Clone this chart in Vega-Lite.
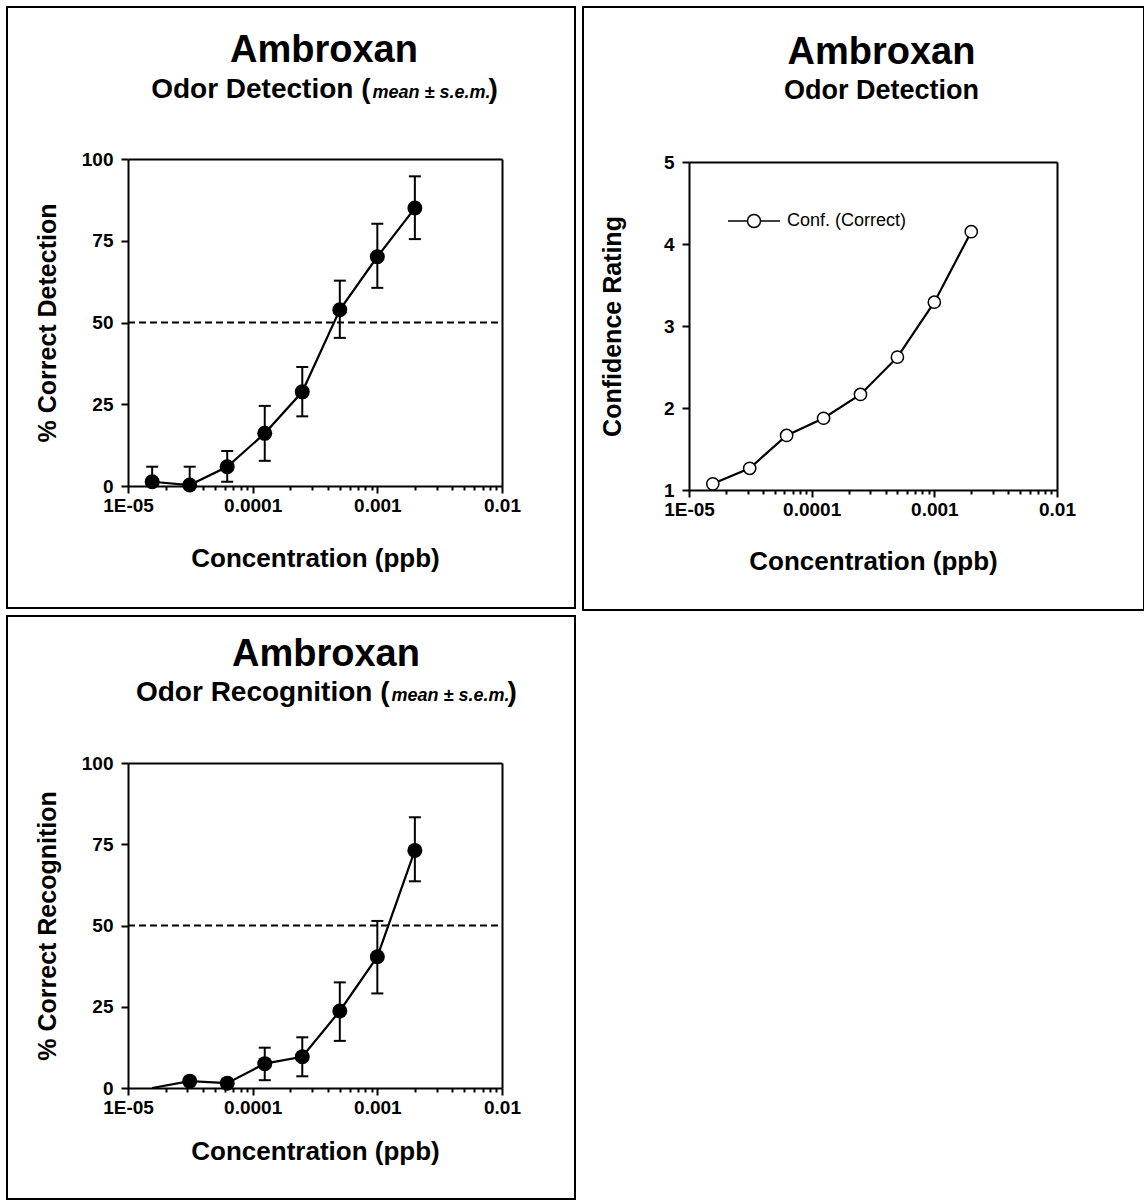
{
  "$schema": "https://vega.github.io/schema/vega-lite/v6.json",
  "background": "white",
  "padding": {"left": 6, "top": 6, "right": 0, "bottom": 0},
  "config": {
    "view": {"stroke": "black", "strokeWidth": 2},
    "font": "Liberation Sans",
    "axis": {"grid": false, "domainColor": "black", "domainWidth": 2, "tickColor": "black", "tickWidth": 2, "labelColor": "black", "titleColor": "black", "labelFont": "Liberation Sans", "titleFont": "Liberation Sans", "labelFontWeight": "bold", "titleFontWeight": "bold"},
    "title": {"font": "Liberation Sans", "color": "black"}
  },
  "datasets": {
    "det": [
      {"conc": 0.000015625, "mean": 1.3, "lo": 0, "hi": 5.9},
      {"conc": 0.00003125, "mean": 0.3, "lo": 0, "hi": 5.9},
      {"conc": 0.0000625, "mean": 5.9, "lo": 1.3, "hi": 10.7},
      {"conc": 0.000125, "mean": 16.1, "lo": 7.7, "hi": 24.5},
      {"conc": 0.00025, "mean": 28.8, "lo": 21.3, "hi": 36.4},
      {"conc": 0.0005, "mean": 53.9, "lo": 45.3, "hi": 62.8},
      {"conc": 0.001, "mean": 70.1, "lo": 60.6, "hi": 80.2},
      {"conc": 0.002, "mean": 85.0, "lo": 75.5, "hi": 94.7}
    ],
    "conf": [
      {"conc": 0.000015625, "rating": 1.075},
      {"conc": 0.00003125, "rating": 1.265},
      {"conc": 0.0000625, "rating": 1.665},
      {"conc": 0.000125, "rating": 1.875},
      {"conc": 0.00025, "rating": 2.165},
      {"conc": 0.0005, "rating": 2.62},
      {"conc": 0.001, "rating": 3.29},
      {"conc": 0.002, "rating": 4.15}
    ],
    "rec": [
      {"conc": 0.000015625, "mean": 0, "lo": null, "hi": null},
      {"conc": 0.00003125, "mean": 2.1, "lo": null, "hi": null},
      {"conc": 0.0000625, "mean": 1.5, "lo": null, "hi": null},
      {"conc": 0.000125, "mean": 7.5, "lo": 2.4, "hi": 12.4},
      {"conc": 0.00025, "mean": 9.6, "lo": 3.6, "hi": 15.6},
      {"conc": 0.0005, "mean": 23.7, "lo": 14.5, "hi": 32.5},
      {"conc": 0.001, "mean": 40.4, "lo": 29.1, "hi": 51.4},
      {"conc": 0.002, "mean": 73.1, "lo": 63.6, "hi": 83.3}
    ]
  },
  "spacing": 4,
  "resolve": {"legend": {"color": "independent"}},
  "vconcat": [
    {
      "spacing": 6,
      "resolve": {"legend": {"color": "independent"}},
      "hconcat": [
        {
          "width": 568,
          "height": 601,
          "title": {"text": "Ambroxan", "fontSize": 38, "fontWeight": "bold", "anchor": "middle", "frame": "group", "dx": 33, "offset": -63},
          "resolve": {"axis": {"x": "independent", "y": "independent"}},
          "layer": [
            {
              "data": {"values": [{"ref": 50}]},
              "mark": {"type": "rule", "strokeDash": [7, 4], "strokeWidth": 2, "color": "black"},
              "encoding": {
                "x": {"datum": 0.00001, "type": "quantitative", "scale": {"type": "log", "domain": [0.00001, 0.01], "range": [121, 495]},
                  "axis": {"orient": "top", "offset": -152, "ticks": false, "labels": false, "title": "Odor Detection (", "titleFontSize": 28, "titleX": 363, "titleY": -62, "titleAlign": "right", "titleBaseline": "alphabetic", "titleAngle": 0}},
                "x2": {"datum": 0.01},
                "y": {"field": "ref", "type": "quantitative", "scale": {"domain": [0, 100], "range": [479, 152]},
                  "axis": {"orient": "right", "offset": -73, "ticks": false, "labels": false, "title": ")", "titleFontSize": 28, "titleX": -14, "titleY": 90, "titleAlign": "left", "titleBaseline": "alphabetic", "titleAngle": 0}}
              }
            },
            {
              "data": {"name": "det"},
              "mark": {"type": "rule", "strokeWidth": 2, "color": "black"},
              "encoding": {
                "x": {"field": "conc", "type": "quantitative", "scale": {"type": "log", "domain": [0.00001, 0.01], "range": [121, 495]},
                  "axis": {"orient": "top", "offset": -152, "domain": false, "ticks": false, "labels": false, "title": "mean ± s.e.m.", "titleFontSize": 18, "titleFontStyle": "italic", "titleX": 365, "titleY": -62, "titleAlign": "left", "titleBaseline": "alphabetic", "titleAngle": 0}},
                "y": {"field": "lo", "type": "quantitative", "scale": {"domain": [0, 100], "range": [479, 152]}, "axis": null},
                "y2": {"field": "hi"}
              }
            },
            {
              "data": {"name": "det"},
              "transform": [{"fold": ["lo", "hi"], "as": ["bound", "val"]}],
              "mark": {"type": "tick", "orient": "horizontal", "size": 12, "thickness": 2, "color": "black", "opacity": 1},
              "encoding": {
                "x": {"field": "conc", "type": "quantitative", "scale": {"type": "log", "domain": [0.00001, 0.01], "range": [121, 495]}, "axis": null},
                "y": {"field": "val", "type": "quantitative", "scale": {"domain": [0, 100], "range": [479, 152]}, "axis": null}
              }
            },
            {
              "data": {"name": "det"},
              "mark": {"type": "line", "color": "black", "strokeWidth": 2.2, "point": {"filled": true, "color": "black", "size": 225, "opacity": 1}},
              "encoding": {
                "x": {"field": "conc", "type": "quantitative", "scale": {"type": "log", "domain": [0.00001, 0.01], "range": [121, 495]},
                  "axis": {"orient": "bottom", "offset": -122, "values": [1e-5, 2e-5, 3e-5, 4e-5, 5e-5, 6e-5, 7e-5, 8e-5, 9e-5, 1e-4, 2e-4, 3e-4, 4e-4, 5e-4, 6e-4, 7e-4, 8e-4, 9e-4, 1e-3, 2e-3, 3e-3, 4e-3, 5e-3, 6e-3, 7e-3, 8e-3, 9e-3, 1e-2],
                    "labelExpr": "abs(log(datum.value)/LN10 - round(log(datum.value)/LN10)) < 0.001 ? (datum.value < 0.00005 ? '1E-05' : format(datum.value, '~g')) : ''",
                    "tickSize": {"condition": {"test": "abs(log(datum.value)/LN10 - round(log(datum.value)/LN10)) < 0.001", "value": 7}, "value": 4},
                    "labelFontSize": 19, "labelPadding": 3, "labelFlush": false, "labelOverlap": false, "labelBound": false,
                    "title": "Concentration (ppb)", "titleFontSize": 26, "titlePadding": 30}},
                "y": {"field": "mean", "type": "quantitative", "scale": {"domain": [0, 100], "range": [479, 152]},
                  "axis": {"orient": "left", "offset": -121, "values": [0, 25, 50, 75, 100], "tickSize": 7, "labelFontSize": 19, "labelPadding": 8, "labelFlush": false, "labelOverlap": false, "title": "% Correct Detection", "titleFontSize": 25, "titlePadding": 21}}
              }
            }
          ]
        },
        {
          "width": 561,
          "height": 603,
          "title": {"text": "Ambroxan", "fontSize": 38, "fontWeight": "bold", "anchor": "middle", "frame": "group", "dx": 18, "offset": -65},
          "resolve": {"axis": {"x": "independent", "y": "independent"}},
          "data": {"name": "conf"},
          "layer": [
            {
              "mark": {"type": "line", "strokeWidth": 2.2},
              "encoding": {
                "x": {"field": "conc", "type": "quantitative", "scale": {"type": "log", "domain": [0.00001, 0.01], "range": [106, 474]},
                  "axis": {"orient": "bottom", "offset": -120, "values": [1e-5, 2e-5, 3e-5, 4e-5, 5e-5, 6e-5, 7e-5, 8e-5, 9e-5, 1e-4, 2e-4, 3e-4, 4e-4, 5e-4, 6e-4, 7e-4, 8e-4, 9e-4, 1e-3, 2e-3, 3e-3, 4e-3, 5e-3, 6e-3, 7e-3, 8e-3, 9e-3, 1e-2],
                    "labelExpr": "abs(log(datum.value)/LN10 - round(log(datum.value)/LN10)) < 0.001 ? (datum.value < 0.00005 ? '1E-05' : format(datum.value, '~g')) : ''",
                    "tickSize": {"condition": {"test": "abs(log(datum.value)/LN10 - round(log(datum.value)/LN10)) < 0.001", "value": 7}, "value": 4},
                    "labelFontSize": 19, "labelPadding": 3, "labelFlush": false, "labelOverlap": false, "labelBound": false,
                    "title": "Concentration (ppb)", "titleFontSize": 26, "titlePadding": 29}},
                "y": {"field": "rating", "type": "quantitative", "scale": {"domain": [1, 5], "range": [483, 155]},
                  "axis": {"orient": "left", "offset": -106, "values": [1, 2, 3, 4, 5], "tickSize": 7, "labelFontSize": 19, "labelPadding": 8, "labelFlush": false, "labelOverlap": false, "title": "Confidence Rating", "titleFontSize": 25, "titlePadding": 38}},
                "color": {"datum": "Conf. (Correct)", "type": "nominal", "scale": {"range": ["black"]},
                  "legend": {"orient": "none", "legendX": 144, "legendY": 187, "title": null, "padding": 0,
                    "symbolType": "M-1,0H-0.25M0.25,0H1M-0.25,0A0.25,0.25,0,1,1,0.25,0A0.25,0.25,0,1,1,-0.25,0Z",
                    "symbolSize": 2704, "symbolStrokeWidth": 1.5, "symbolFillColor": "white", "symbolStrokeColor": "black",
                    "labelFont": "Liberation Sans", "labelFontSize": 18, "labelFontWeight": "normal", "labelColor": "black", "labelOffset": 6}}
              }
            },
            {
              "mark": {"type": "point", "shape": "circle", "filled": true, "fill": "white", "stroke": "black", "strokeWidth": 1.5, "size": 150, "opacity": 1},
              "encoding": {
                "x": {"field": "conc", "type": "quantitative", "scale": {"type": "log", "domain": [0.00001, 0.01], "range": [106, 474]},
                  "axis": {"orient": "top", "offset": -155, "ticks": false, "labels": false, "title": "Odor Detection", "titleFontSize": 27, "titleX": 298, "titleY": -64, "titleAlign": "center", "titleBaseline": "alphabetic", "titleAngle": 0}},
                "y": {"field": "rating", "type": "quantitative", "scale": {"domain": [1, 5], "range": [483, 155]},
                  "axis": {"orient": "right", "offset": -87, "ticks": false, "labels": false, "title": null}}
              }
            }
          ]
        }
      ]
    },
    {
      "width": 568,
      "height": 583,
      "title": {"text": "Ambroxan", "fontSize": 38, "fontWeight": "bold", "anchor": "middle", "frame": "group", "dx": 35, "offset": -58},
      "resolve": {"axis": {"x": "independent", "y": "independent"}},
      "layer": [
        {
          "data": {"values": [{"ref": 50}]},
          "mark": {"type": "rule", "strokeDash": [7, 4], "strokeWidth": 2, "color": "black"},
          "encoding": {
            "x": {"datum": 0.00001, "type": "quantitative", "scale": {"type": "log", "domain": [0.00001, 0.01], "range": [121, 495]},
              "axis": {"orient": "top", "offset": -147, "ticks": false, "labels": false, "title": "Odor Recognition (", "titleFontSize": 28, "titleX": 382, "titleY": -63, "titleAlign": "right", "titleBaseline": "alphabetic", "titleAngle": 0}},
            "x2": {"datum": 0.01},
            "y": {"field": "ref", "type": "quantitative", "scale": {"domain": [0, 100], "range": [472, 147]},
              "axis": {"orient": "right", "offset": -73, "ticks": false, "labels": false, "title": ")", "titleFontSize": 28, "titleX": 5, "titleY": 84, "titleAlign": "left", "titleBaseline": "alphabetic", "titleAngle": 0}}
          }
        },
        {
          "data": {"name": "rec"},
          "transform": [{"filter": "datum.hi != null"}],
          "mark": {"type": "rule", "strokeWidth": 2, "color": "black"},
          "encoding": {
            "x": {"field": "conc", "type": "quantitative", "scale": {"type": "log", "domain": [0.00001, 0.01], "range": [121, 495]},
              "axis": {"orient": "top", "offset": -147, "domain": false, "ticks": false, "labels": false, "title": "mean ± s.e.m.", "titleFontSize": 18, "titleFontStyle": "italic", "titleX": 384, "titleY": -63, "titleAlign": "left", "titleBaseline": "alphabetic", "titleAngle": 0}},
            "y": {"field": "lo", "type": "quantitative", "scale": {"domain": [0, 100], "range": [472, 147]}, "axis": null},
            "y2": {"field": "hi"}
          }
        },
        {
          "data": {"name": "rec"},
          "transform": [{"filter": "datum.hi != null"}, {"fold": ["lo", "hi"], "as": ["bound", "val"]}],
          "mark": {"type": "tick", "orient": "horizontal", "size": 12, "thickness": 2, "color": "black", "opacity": 1},
          "encoding": {
            "x": {"field": "conc", "type": "quantitative", "scale": {"type": "log", "domain": [0.00001, 0.01], "range": [121, 495]}, "axis": null},
            "y": {"field": "val", "type": "quantitative", "scale": {"domain": [0, 100], "range": [472, 147]}, "axis": null}
          }
        },
        {
          "data": {"name": "rec"},
          "mark": {"type": "line", "color": "black", "strokeWidth": 2.2},
          "encoding": {
            "x": {"field": "conc", "type": "quantitative", "scale": {"type": "log", "domain": [0.00001, 0.01], "range": [121, 495]},
              "axis": {"orient": "bottom", "offset": -111, "values": [1e-5, 2e-5, 3e-5, 4e-5, 5e-5, 6e-5, 7e-5, 8e-5, 9e-5, 1e-4, 2e-4, 3e-4, 4e-4, 5e-4, 6e-4, 7e-4, 8e-4, 9e-4, 1e-3, 2e-3, 3e-3, 4e-3, 5e-3, 6e-3, 7e-3, 8e-3, 9e-3, 1e-2],
                "labelExpr": "abs(log(datum.value)/LN10 - round(log(datum.value)/LN10)) < 0.001 ? (datum.value < 0.00005 ? '1E-05' : format(datum.value, '~g')) : ''",
                "tickSize": {"condition": {"test": "abs(log(datum.value)/LN10 - round(log(datum.value)/LN10)) < 0.001", "value": 7}, "value": 4},
                "labelFontSize": 19, "labelPadding": 3, "labelFlush": false, "labelOverlap": false, "labelBound": false,
                "title": "Concentration (ppb)", "titleFontSize": 26, "titlePadding": 21}},
            "y": {"field": "mean", "type": "quantitative", "scale": {"domain": [0, 100], "range": [472, 147]},
              "axis": {"orient": "left", "offset": -121, "values": [0, 25, 50, 75, 100], "tickSize": 7, "labelFontSize": 19, "labelPadding": 8, "labelFlush": false, "labelOverlap": false, "title": "% Correct Recognition", "titleFontSize": 25, "titlePadding": 21}}
          }
        },
        {
          "data": {"name": "rec"},
          "transform": [{"filter": "datum.conc > 0.00002"}],
          "mark": {"type": "point", "shape": "circle", "filled": true, "color": "black", "size": 225, "opacity": 1},
          "encoding": {
            "x": {"field": "conc", "type": "quantitative", "scale": {"type": "log", "domain": [0.00001, 0.01], "range": [121, 495]}, "axis": null},
            "y": {"field": "mean", "type": "quantitative", "scale": {"domain": [0, 100], "range": [472, 147]}, "axis": null}
          }
        }
      ]
    }
  ]
}
